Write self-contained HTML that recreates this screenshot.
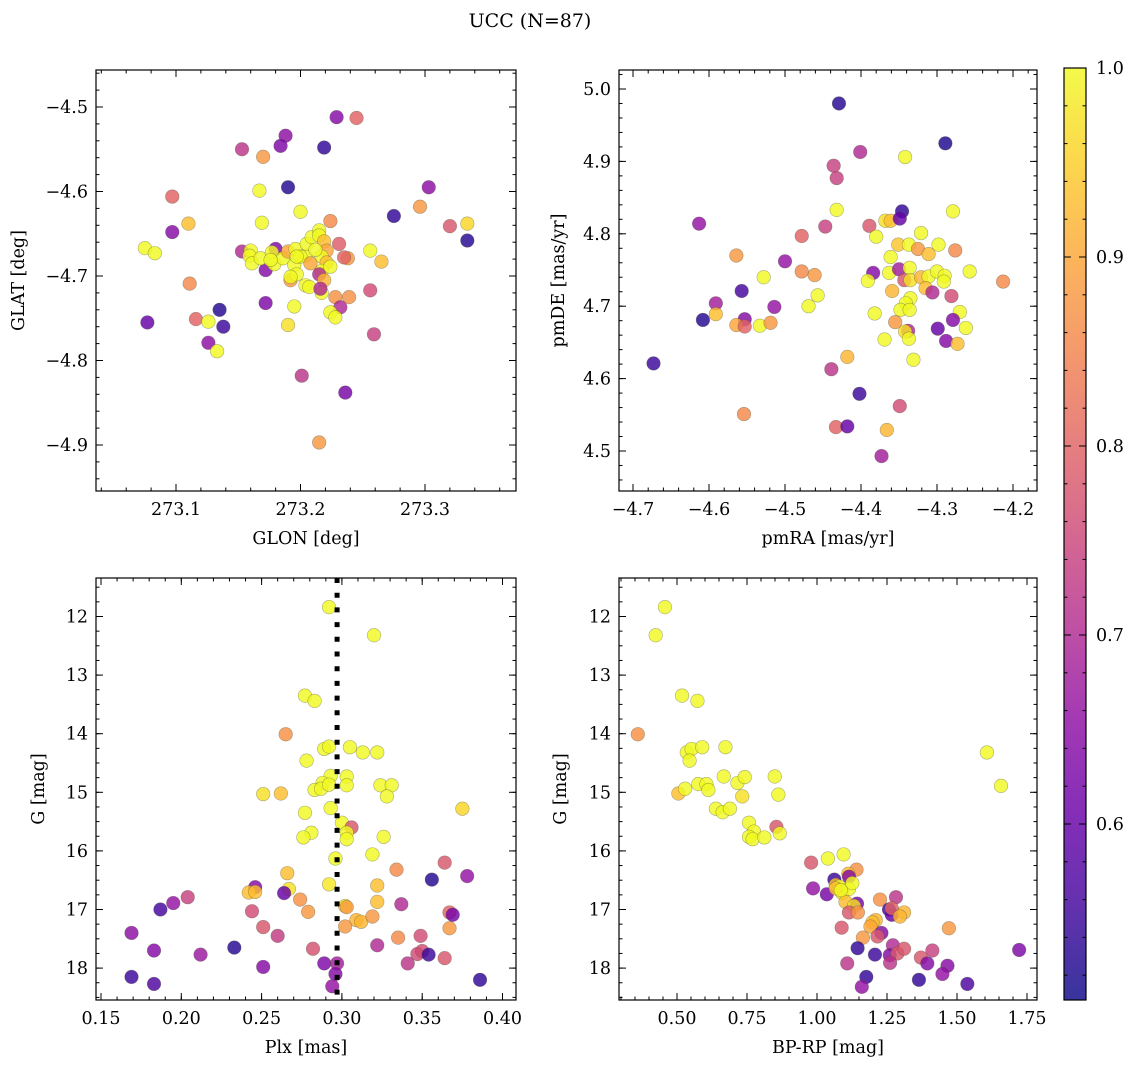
<!DOCTYPE html>
<html><head><meta charset="utf-8"><style>
html,body{margin:0;padding:0;background:#fff;}
svg{display:block;font-family:"DejaVu Serif","Liberation Serif",serif;}
</style></head><body>
<svg id="fig" width="1136" height="1068" viewBox="0 0 1136 1068" xmlns="http://www.w3.org/2000/svg">
<rect x="0" y="0" width="1136" height="1068" fill="#fff"/>
<text x="530" y="27" font-size="19" text-anchor="middle">UCC (N=87)</text>
</svg>
<script>
// ---- Data ----
const glon=[273.229,273.245,273.188,273.153,273.184,273.219,273.170,273.190,273.167,273.303,273.097,273.200,273.296,273.275,273.169,273.224,273.110,273.097,273.320,273.334,273.334,273.075,273.083,273.153,273.231,273.256,273.265,273.238,273.111,273.256,273.172,273.195,273.135,273.116,273.126,273.077,273.138,273.190,273.228,273.239,273.232,273.224,273.228,273.259,273.126,273.133,273.201,273.236,273.215,273.180,273.172,273.160,273.159,273.161,273.168,273.177,273.179,273.186,273.190,273.196,273.195,273.192,273.197,273.204,273.207,273.204,273.205,273.209,273.215,273.215,273.219,273.221,273.217,273.221,273.217,273.215,273.219,273.217,273.216,273.235,273.192,273.200,273.212,273.176,273.224,273.208,273.197];
const glat=[-4.512,-4.513,-4.534,-4.550,-4.546,-4.548,-4.559,-4.595,-4.599,-4.595,-4.606,-4.624,-4.618,-4.629,-4.637,-4.635,-4.638,-4.648,-4.641,-4.638,-4.658,-4.667,-4.673,-4.671,-4.662,-4.670,-4.683,-4.679,-4.709,-4.717,-4.732,-4.736,-4.740,-4.751,-4.754,-4.755,-4.760,-4.758,-4.725,-4.725,-4.737,-4.743,-4.749,-4.769,-4.779,-4.789,-4.818,-4.838,-4.897,-4.668,-4.693,-4.670,-4.676,-4.685,-4.679,-4.672,-4.686,-4.679,-4.671,-4.668,-4.687,-4.705,-4.698,-4.711,-4.713,-4.676,-4.662,-4.654,-4.646,-4.652,-4.659,-4.670,-4.677,-4.684,-4.694,-4.698,-4.705,-4.720,-4.715,-4.678,-4.701,-4.677,-4.669,-4.681,-4.689,-4.685,-4.677];
const probTL=[0.64,0.80,0.65,0.72,0.63,0.54,0.88,0.53,1.00,0.65,0.80,1.00,0.88,0.54,1.00,0.86,0.93,0.64,0.78,0.96,0.53,1.00,1.00,0.70,0.79,1.00,0.93,0.88,0.86,0.76,0.63,1.00,0.53,0.80,1.00,0.60,0.55,0.97,0.87,0.87,0.70,1.00,1.00,0.74,0.65,1.00,0.72,0.62,0.88,0.63,0.64,1.00,1.00,1.00,1.00,1.00,1.00,1.00,0.90,1.00,1.00,0.88,1.00,1.00,1.00,1.00,1.00,1.00,1.00,1.00,0.93,0.90,1.00,0.93,1.00,0.70,0.92,1.00,0.70,0.80,1.00,1.00,1.00,1.00,1.00,0.90,1.00];

const pmra=[-4.429,-4.289,-4.401,-4.342,-4.436,-4.432,-4.432,-4.346,-4.279,-4.613,-4.447,-4.389,-4.368,-4.361,-4.349,-4.478,-4.380,-4.321,-4.564,-4.500,-4.351,-4.337,-4.325,-4.311,-4.298,-4.276,-4.361,-4.528,-4.478,-4.461,-4.384,-4.391,-4.363,-4.350,-4.336,-4.343,-4.335,-4.321,-4.311,-4.300,-4.290,-4.291,-4.257,-4.213,-4.557,-4.457,-4.359,-4.315,-4.306,-4.281,-4.591,-4.514,-4.469,-4.335,-4.341,-4.348,-4.336,-4.382,-4.270,-4.608,-4.591,-4.553,-4.564,-4.553,-4.533,-4.519,-4.355,-4.338,-4.342,-4.337,-4.299,-4.279,-4.262,-4.288,-4.273,-4.369,-4.673,-4.418,-4.439,-4.331,-4.402,-4.349,-4.554,-4.433,-4.418,-4.366,-4.373];
const pmde=[4.980,4.925,4.913,4.906,4.894,4.877,4.833,4.831,4.831,4.814,4.810,4.811,4.818,4.818,4.821,4.797,4.796,4.801,4.770,4.762,4.785,4.785,4.779,4.772,4.785,4.777,4.768,4.740,4.748,4.743,4.746,4.735,4.746,4.751,4.753,4.736,4.736,4.740,4.741,4.748,4.742,4.734,4.748,4.734,4.721,4.715,4.721,4.725,4.719,4.714,4.704,4.699,4.700,4.711,4.704,4.695,4.695,4.690,4.692,4.681,4.689,4.682,4.674,4.672,4.673,4.677,4.678,4.666,4.665,4.655,4.669,4.681,4.670,4.652,4.648,4.654,4.621,4.630,4.613,4.626,4.579,4.562,4.551,4.533,4.534,4.529,4.493];
const probTR=[0.53,0.52,0.70,1.00,0.74,0.74,1.00,0.54,1.00,0.66,0.74,0.78,0.97,0.93,0.60,0.80,1.00,1.00,0.88,0.66,0.94,1.00,0.88,0.93,1.00,0.86,1.00,1.00,0.86,0.88,0.64,1.00,1.00,0.68,1.00,0.78,0.97,0.92,1.00,1.00,1.00,1.00,1.00,0.86,0.56,1.00,0.92,0.93,0.70,0.76,0.68,0.66,1.00,1.00,1.00,1.00,1.00,1.00,1.00,0.53,0.93,0.64,0.90,0.80,1.00,0.88,0.88,0.70,0.97,1.00,0.60,0.64,1.00,0.64,0.93,1.00,0.55,0.92,0.72,1.00,0.55,0.76,0.86,0.80,0.60,0.92,0.68];

const plx=[0.292,0.320,0.277,0.283,0.265,0.289,0.292,0.305,0.313,0.322,0.278,0.293,0.288,0.303,0.303,0.283,0.287,0.324,0.331,0.328,0.251,0.262,0.277,0.293,0.375,0.300,0.306,0.303,0.303,0.281,0.276,0.326,0.296,0.319,0.334,0.364,0.356,0.378,0.266,0.267,0.246,0.242,0.246,0.264,0.292,0.322,0.274,0.322,0.204,0.195,0.187,0.244,0.279,0.302,0.303,0.337,0.367,0.369,0.309,0.312,0.319,0.302,0.251,0.260,0.367,0.335,0.349,0.169,0.183,0.212,0.233,0.282,0.322,0.347,0.350,0.354,0.364,0.341,0.289,0.297,0.251,0.169,0.183,0.296,0.294,0.386,0.292];
const gmagL=[11.84,12.32,13.35,13.44,14.01,14.26,14.22,14.23,14.32,14.32,14.46,14.72,14.84,14.73,14.88,14.96,14.94,14.88,14.88,15.07,15.03,15.02,15.35,15.27,15.28,15.52,15.60,15.69,15.80,15.69,15.77,15.76,16.13,16.06,16.32,16.20,16.49,16.43,16.38,16.65,16.62,16.71,16.70,16.72,16.57,16.59,16.83,16.87,16.79,16.89,17.00,17.03,17.04,16.94,16.96,16.91,17.05,17.09,17.18,17.21,17.12,17.29,17.30,17.45,17.32,17.48,17.45,17.40,17.70,17.77,17.65,17.67,17.61,17.76,17.71,17.77,17.83,17.92,17.92,17.92,17.98,18.15,18.27,18.10,18.31,18.20,14.87];
const probBL=[1.00,1.00,1.00,1.00,0.87,1.00,1.00,1.00,1.00,1.00,1.00,1.00,1.00,1.00,1.00,1.00,1.00,1.00,1.00,1.00,0.97,0.93,1.00,1.00,0.96,1.00,0.78,1.00,1.00,1.00,1.00,1.00,1.00,1.00,0.86,0.78,0.53,0.66,0.93,0.97,0.64,0.93,0.93,0.60,0.98,0.93,0.87,0.93,0.74,0.66,0.56,0.76,0.88,0.98,0.88,0.70,0.80,0.62,0.92,0.92,0.88,0.88,0.78,0.73,0.88,0.86,0.76,0.65,0.64,0.67,0.53,0.77,0.70,0.76,0.76,0.55,0.78,0.72,0.63,0.68,0.64,0.55,0.57,0.64,0.66,0.54,1.00];

const bprp=[0.457,0.424,0.518,0.573,0.360,0.535,0.552,0.590,0.673,0.545,0.505,0.529,0.576,0.605,0.612,0.667,0.716,0.742,0.849,0.862,0.733,0.639,0.663,0.689,0.757,0.775,0.757,0.770,0.812,0.855,0.867,1.607,1.657,0.979,1.039,1.095,1.141,1.112,1.062,1.114,0.986,1.035,1.067,1.079,1.090,1.114,1.102,1.143,1.132,1.114,1.146,1.225,1.282,1.257,1.267,1.267,1.311,1.296,1.088,1.210,1.198,1.191,1.230,1.216,1.164,1.471,1.145,1.207,1.271,1.260,1.287,1.311,1.261,1.108,1.412,1.371,1.394,1.466,1.448,1.176,1.160,1.364,1.537,1.722,1.067,1.126,1.085];
const gmagR=[11.84,12.32,13.35,13.44,14.01,14.32,14.26,14.23,14.23,14.46,15.02,14.94,14.86,14.86,14.96,14.73,14.84,14.74,14.73,15.04,15.07,15.28,15.34,15.28,15.52,15.67,15.76,15.80,15.77,15.59,15.70,14.32,14.89,16.20,16.13,16.06,16.32,16.39,16.49,16.44,16.64,16.74,16.58,16.61,16.72,16.65,16.87,16.90,16.94,17.05,17.05,16.83,16.79,17.00,17.09,16.98,17.05,17.12,17.31,17.18,17.22,17.29,17.40,17.46,17.48,17.32,17.66,17.77,17.61,17.78,17.75,17.67,17.91,17.92,17.70,17.82,17.92,17.96,18.10,18.15,18.32,18.20,18.27,17.69,16.64,16.55,16.67];
const probBR=[1.00,1.00,1.00,1.00,0.87,1.00,1.00,1.00,1.00,1.00,0.93,1.00,1.00,1.00,1.00,1.00,1.00,1.00,1.00,1.00,0.97,1.00,1.00,1.00,1.00,1.00,1.00,1.00,1.00,0.78,1.00,1.00,1.00,0.78,1.00,1.00,0.87,0.93,0.55,0.64,0.66,0.62,0.93,1.00,0.97,1.00,0.93,0.62,0.97,0.78,0.87,0.87,0.72,0.56,0.60,0.80,0.92,0.92,0.78,0.92,0.93,0.90,0.64,0.78,0.88,0.88,0.54,0.55,0.70,0.64,0.78,0.78,0.72,0.72,0.74,0.78,0.64,0.64,0.66,0.54,0.66,0.54,0.57,0.63,0.93,1.00,1.00];

const plxLine=0.297;
const cbTicks=[0.6,0.7,0.8,0.9,1.0];
const cbLabels=["0.6","0.7","0.8","0.9","1.0"];
const tlXTicks=[273.1,273.2,273.3], tlYTicks=[-4.9,-4.8,-4.7,-4.6,-4.5];
const trXTicks=[-4.7,-4.6,-4.5,-4.4,-4.3,-4.2], trYTicks=[4.5,4.6,4.7,4.8,4.9,5.0];
const blXTicks=[0.15,0.20,0.25,0.30,0.35,0.40], gTicks=[12,13,14,15,16,17,18];
const brXTicks=[0.50,0.75,1.00,1.25,1.50,1.75];

const NS="http://www.w3.org/2000/svg";
const svg=document.getElementById('fig');
function mk(tag,attrs,parent){const e=document.createElementNS(NS,tag);for(const k in attrs)e.setAttribute(k,attrs[k]);(parent||svg).appendChild(e);return e;}

const PL=[[13,8,135],[65,4,157],[106,0,168],[143,13,164],[177,42,144],[204,71,120],[225,100,98],[242,132,75],[252,166,54],[252,206,37],[240,249,33]];
const VMIN=0.507,VMAX=1.0;
function cmap(v){let t=(v-VMIN)/(VMAX-VMIN);t=Math.max(0,Math.min(1,t));const f=t*10,i=Math.min(9,Math.floor(f)),r=f-i;
 const a=PL[i],b=PL[i+1];return 'rgb('+[0,1,2].map(k=>Math.round(a[k]+(b[k]-a[k])*r)).join(',')+')';}

function fmt(v,d){return (v<0?'\u2212':'')+Math.abs(v).toFixed(d);}

function panel(name,box,sx,sy,xt,xd,yt,yd,xMinor,yMinor,xlab,ylab,ylabX){
 const g=mk('g',{});
 
 
 const tk=mk('g',{stroke:'#000','stroke-width':1},g);
 
 
 const xr=[sx.inv(box.x0),sx.inv(box.x1)].sort((a,b)=>a-b), yr=[sy.inv(box.y1),sy.inv(box.y0)].sort((a,b)=>a-b);
 for(let v=Math.ceil(xr[0]/xMinor-1e-6)*xMinor;v<=xr[1]+1e-9;v+=xMinor){const x=sx(v);
   mk('line',{x1:x,x2:x,y1:box.y1,y2:box.y1-3.5},tk);mk('line',{x1:x,x2:x,y1:box.y0,y2:box.y0+3.5},tk);}
 for(let v=Math.ceil(yr[0]/yMinor-1e-6)*yMinor;v<=yr[1]+1e-9;v+=yMinor){const y=sy(v);
   mk('line',{y1:y,y2:y,x1:box.x0,x2:box.x0+3.5},tk);mk('line',{y1:y,y2:y,x1:box.x1,x2:box.x1-3.5},tk);}
 xt.forEach(v=>{const x=sx(v);mk('line',{x1:x,x2:x,y1:box.y1,y2:box.y1-7},tk);mk('line',{x1:x,x2:x,y1:box.y0,y2:box.y0+7},tk);
   const t=mk('text',{x:x,y:box.y1+24,'font-size':17.5,'text-anchor':'middle'},g);t.textContent=fmt(v,xd);
   
   });
 yt.forEach(v=>{const y=sy(v);mk('line',{y1:y,y2:y,x1:box.x0,x2:box.x0+7},tk);mk('line',{y1:y,y2:y,x1:box.x1,x2:box.x1-7},tk);
   const t=mk('text',{x:box.x0-8,y:y+6,'font-size':17.5,'text-anchor':'end'},g);t.textContent=fmt(v,yd);
   
   });
 const xl=mk('text',{x:(box.x0+box.x1)/2,y:box.y1+53,'font-size':17.5,'text-anchor':'middle'},g);xl.textContent=xlab;
 
 
 const yc=(box.y0+box.y1)/2;
 const yl=mk('text',{x:ylabX,y:yc,'font-size':17.5,'text-anchor':'middle',transform:'rotate(-90 '+ylabX+' '+yc+')'},g);yl.textContent=ylab;
 
 
 return g;
}
function scatter(g,name,sx,sy,xs,ys,cs,box){
 const cp=mk('clipPath',{id:'clip-'+name},g);mk('rect',{x:box.x0,y:box.y0,width:box.x1-box.x0,height:box.y1-box.y0},cp);
 const pts=mk('g',{'clip-path':'url(#clip-'+name+')'},g);
 xs.forEach((v,i)=>{const c=mk('circle',{cx:sx(v),cy:sy(ys[i]),r:6.8,fill:cmap(cs[i]),'fill-opacity':0.82,stroke:'rgba(80,80,60,0.45)','stroke-width':0.6},pts);
  
  });
}
function frame(g,box){mk('rect',{x:box.x0,y:box.y0,width:box.x1-box.x0,height:box.y1-box.y0,fill:'none',stroke:'#000','stroke-width':1.2},g);}
function lin(d0,p0,k){const f=v=>p0+(v-d0)*k;f.inv=p=>d0+(p-p0)/k;return f;}

let box={x0:96,x1:516,y0:70,y1:491};
let sx=lin(273.1,176,1245), sy=lin(-4.5,107,-845);
let g=panel('glon-glat-panel',box,sx,sy,tlXTicks,1,tlYTicks,1,0.02,0.02,'GLON [deg]','GLAT [deg]',24);
scatter(g,'glon-glat',sx,sy,glon,glat,probTL,box);frame(g,box);

box={x0:619,x1:1037,y0:70,y1:491};
sx=lin(-4.7,633,760); sy=lin(5.0,89,-724);
g=panel('pm-panel',box,sx,sy,trXTicks,1,trYTicks,1,0.02,0.02,'pmRA [mas/yr]','pmDE [mas/yr]',564);
scatter(g,'pm',sx,sy,pmra,pmde,probTR,box);frame(g,box);

box={x0:96,x1:516,y0:578,y1:1000};
sx=lin(0.15,101,1606); sy=lin(12,616.5,58.6);
g=panel('plx-g-panel',box,sx,sy,blXTicks,2,gTicks,0,0.01,0.25,'Plx [mas]','G [mag]',44);
scatter(g,'plx-g',sx,sy,plx,gmagL,probBL,box);
const vl=mk('line',{x1:sx(plxLine),x2:sx(plxLine),y1:box.y0,y2:box.y1,stroke:'#000','stroke-width':5,'stroke-dasharray':'5 9.7'},g);


frame(g,box);

box={x0:619,x1:1037,y0:578,y1:1000};
sx=lin(0.5,677,280);
g=panel('cmd-panel',box,sx,sy,brXTicks,2,gTicks,0,0.05,0.25,'BP-RP [mag]','G [mag]',566);
scatter(g,'cmd',sx,sy,bprp,gmagR,probBR,box);frame(g,box);

const cb=mk('g',{});


const cy=lin(1.0,68,-1890);
const defs=mk('defs',{},cb);const lg=mk('linearGradient',{id:'cbg',x1:0,y1:1,x2:0,y2:0},defs);
for(let i=0;i<=20;i++){const v=VMIN+(VMAX-VMIN)*i/20;mk('stop',{offset:(i/20),'stop-color':cmap(v),'stop-opacity':0.82},lg);}
mk('rect',{x:1064,y:68,width:22,height:932,fill:'url(#cbg)'},cb);
for(let v=0.52;v<=1.0001;v+=0.02){const y=cy(v);mk('line',{x1:1086,x2:1082.5,y1:y,y2:y,stroke:'#000','stroke-width':1},cb);mk('line',{x1:1064,x2:1067.5,y1:y,y2:y,stroke:'#000','stroke-width':1},cb);}
cbTicks.forEach((v,i)=>{const y=cy(v);mk('line',{x1:1086,x2:1079,y1:y,y2:y,stroke:'#000','stroke-width':1},cb);mk('line',{x1:1064,x2:1071,y1:y,y2:y,stroke:'#000','stroke-width':1},cb);
 const t=mk('text',{x:1096,y:y+6,'font-size':17.5},cb);t.textContent=cbLabels[i];
 
 });
mk('rect',{x:1064,y:68,width:22,height:932,fill:'none',stroke:'#000','stroke-width':1.2},cb);
</script>
</body></html>
